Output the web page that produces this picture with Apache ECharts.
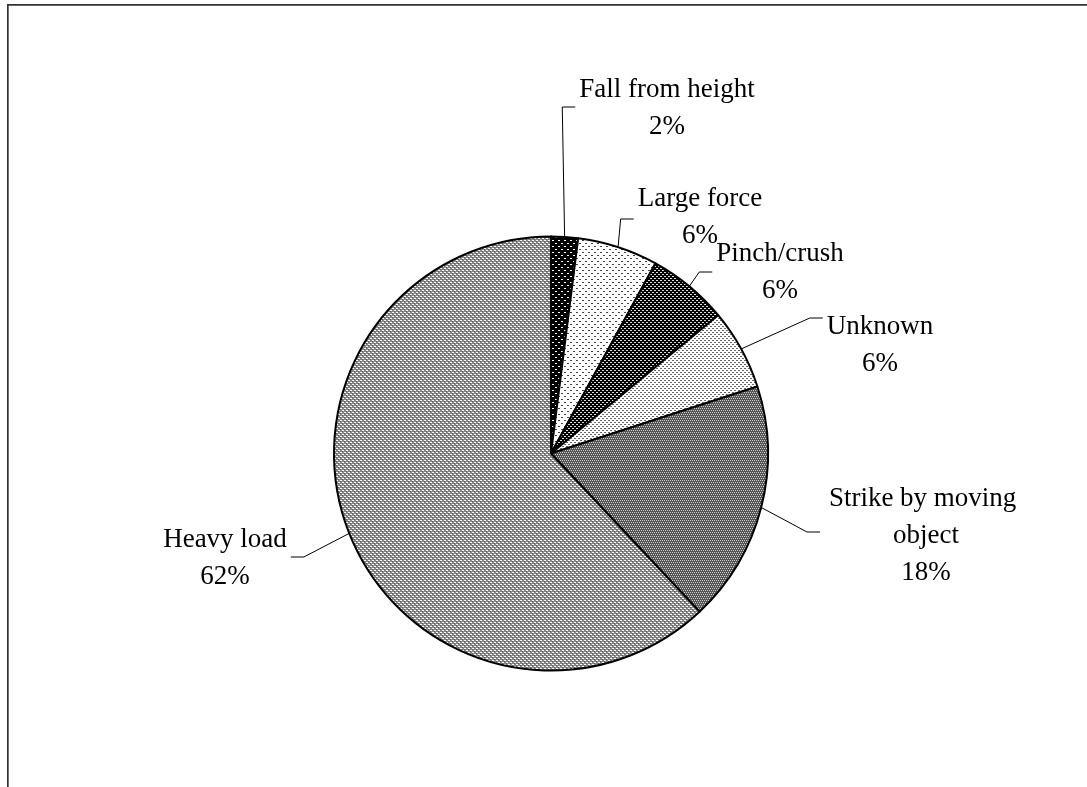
<!DOCTYPE html>
<html>
<head>
<meta charset="utf-8">
<script src="https://cdn.jsdelivr.net/npm/echarts@6/dist/echarts.min.js"></script>
<style>
  html, body { margin: 0; padding: 0; background: #fff; }
  #chart { width: 1087px; height: 787px; }
</style>
</head>
<body>
<div id="chart"></div>
<script>
// Causes of injury, share of cases
const categories = ['Fall from height', 'Large force', 'Pinch/crush', 'Unknown', 'Strike by moving object', 'Heavy load'];
const shares = [2, 6, 6, 6, 18, 62];

// Build a small repeating tile for a hatched / dotted slice fill
function makeTile(w, h, bg, dots) {
  const c = document.createElement('canvas');
  c.width = w; c.height = h;
  const g = c.getContext('2d');
  g.fillStyle = bg;
  g.fillRect(0, 0, w, h);
  dots.forEach(function (d) {
    g.fillStyle = d[2];
    g.fillRect(d[0], d[1], 1, 1);
  });
  return { image: c, repeat: 'repeat' };
}

const fills = [
  // dark with sparse light dots
  makeTile(6, 6, '#000', [[0, 0, '#fff'], [1, 0, '#fff'], [3, 3, '#fff'], [4, 3, '#fff']]),
  // white with sparse dark dots
  makeTile(6, 6, '#fff', [[0, 0, '#444'], [1, 0, '#444'], [3, 3, '#444'], [4, 3, '#444']]),
  // dark with denser light dots
  makeTile(4, 4, '#000', [[0, 0, '#ddd'], [1, 0, '#ddd'], [2, 2, '#ddd'], [3, 2, '#ddd']]),
  // white with denser dark dots
  makeTile(4, 4, '#fff', [[0, 0, '#666'], [1, 0, '#666'], [2, 2, '#666'], [3, 2, '#666']]),
  // medium-dark grey weave
  makeTile(4, 4, '#555', [[0, 0, '#ccc'], [2, 0, '#ccc'], [1, 2, '#ccc'], [3, 2, '#ccc']]),
  // light grey weave
  makeTile(4, 4, '#888', [[0, 0, '#fff'], [1, 0, '#fff'], [2, 2, '#fff'], [3, 2, '#fff'], [0, 1, '#555'], [2, 3, '#555']])
];

// Where each label block sits (centre) and the height of its leader's horizontal run
const labelSpots = [
  { x: 667, y: 108, lead: 107, side: 1 },
  { x: 700, y: 217, lead: 219, side: 1 },
  { x: 780, y: 272, lead: 272, side: 1 },
  { x: 880, y: 345, lead: 318, side: 1 },
  { x: 926, y: 536, lead: 532, side: 1 },
  { x: 225, y: 558, lead: 557, side: -1 }
];

const chart = echarts.init(document.getElementById('chart'), null, { renderer: 'canvas' });

chart.setOption({
  animation: false,
  backgroundColor: '#fff',
  graphic: [
    { type: 'line', shape: { x1: 7, y1: 4.85, x2: 1087, y2: 4.85 }, style: { stroke: '#333', lineWidth: 1.7 }, silent: true },
    { type: 'line', shape: { x1: 7.85, y1: 4, x2: 7.85, y2: 787 }, style: { stroke: '#333', lineWidth: 1.7 }, silent: true }
  ],
  series: [{
    type: 'pie',
    center: [551, 453.5],
    radius: 217,
    startAngle: 90,
    clockwise: true,
    avoidLabelOverlap: false,
    emphasis: { disabled: true },
    data: categories.map(function (name, i) {
      const item = { name: name, value: shares[i], itemStyle: { color: fills[i] } };
      // the long name wraps onto two lines
      if (name.length > 18) {
        item.label = { width: 204, overflow: 'break' };
      }
      return item;
    }),
    itemStyle: { borderColor: '#000', borderWidth: 2 },
    label: {
      show: true,
      position: 'outside',
      formatter: '{b}\n{d}%',
      fontFamily: 'Liberation Serif',
      fontSize: 27,
      lineHeight: 37,
      color: '#000',
      align: 'center'
    },
    labelLine: {
      show: true,
      length: 10,
      length2: 10,
      lineStyle: { color: '#000', width: 1 }
    },
    labelLayout: function (params) {
      const spot = labelSpots[params.dataIndex];
      const w = params.labelRect.width;
      const start = params.labelLinePoints ? params.labelLinePoints[0] : [spot.x, spot.y];
      const endX = spot.x - spot.side * (w / 2 + 4);
      const bendX = endX - spot.side * 13;
      return {
        x: spot.x,
        y: spot.y,
        align: 'center',
        verticalAlign: 'middle',
        labelLinePoints: [start, [bendX, spot.lead], [endX, spot.lead]]
      };
    }
  }]
});
</script>
</body>
</html>
